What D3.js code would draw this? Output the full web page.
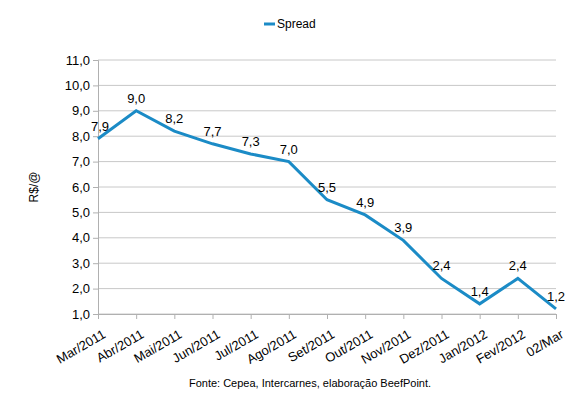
<!DOCTYPE html>
<html>
<head>
<meta charset="utf-8">
<script src="https://cdn.jsdelivr.net/npm/d3@7"></script>
<style>
  body { margin: 0; background: #fff; }
  text { font-family: "Liberation Sans", Arial, sans-serif; fill: #000; }
</style>
</head>
<body>
<div id="chart"></div>
<script>
// data
var months = ["Mar/2011", "Abr/2011", "Mai/2011", "Jun/2011", "Jul/2011", "Ago/2011",
              "Set/2011", "Out/2011", "Nov/2011", "Dez/2011", "Jan/2012", "Fev/2012", "02/Mar"];
var spread = [7.9, 9.0, 8.2, 7.7, 7.3, 7.0, 5.5, 4.9, 3.9, 2.4, 1.4, 2.4, 1.2];
var yTicks = [1, 2, 3, 4, 5, 6, 7, 8, 9, 10, 11];

var width = 570, height = 396;
var margin = {top: 60, right: 14, bottom: 82, left: 98};
var lineColor = "#1b8bc6";
var fmt = function(v) { return d3.format(".1f")(v).replace(".", ","); };

var svg = d3.select("#chart").append("svg")
    .attr("width", width)
    .attr("height", height);

var x = d3.scalePoint()
    .domain(months)
    .range([margin.left, width - margin.right]);

var y = d3.scaleLinear()
    .domain([1, 11])
    .range([height - margin.bottom, margin.top]);

// gridlines
svg.append("g")
  .selectAll("line")
  .data(yTicks)
  .enter().append("line")
    .attr("x1", margin.left)
    .attr("x2", width - margin.right)
    .attr("y1", function(d) { return y(d); })
    .attr("y2", function(d) { return y(d); })
    .attr("stroke", "#c8c8c8")
    .attr("stroke-width", 1);

// y axis
var yAxis = svg.append("g")
    .attr("transform", "translate(" + margin.left + ",0)")
    .call(d3.axisLeft(y).tickValues(yTicks).tickFormat(fmt).tickSize(5).tickPadding(3));
yAxis.select(".domain").attr("stroke", "#b0b0b0");
yAxis.selectAll(".tick line").attr("stroke", "#b0b0b0");
yAxis.selectAll("text").style("font-size", "13px").attr("fill", "#000");

// x axis
var xAxis = svg.append("g")
    .attr("transform", "translate(0," + (height - margin.bottom) + ")")
    .call(d3.axisBottom(x).tickSize(5).tickSizeOuter(0));
xAxis.select(".domain").attr("stroke", "#b0b0b0");
xAxis.selectAll(".tick line").attr("stroke", "#b0b0b0");
xAxis.selectAll("text")
    .style("font-size", "13px")
    .attr("fill", "#000")
    .attr("text-anchor", "end")
    .attr("dy", "0")
    .attr("transform", "translate(4,16) rotate(-30)");

// line
var line = d3.line()
    .x(function(d, i) { return x(months[i]); })
    .y(function(d) { return y(d); });

svg.append("path")
    .datum(spread)
    .attr("fill", "none")
    .attr("stroke", lineColor)
    .attr("stroke-width", 3)
    .attr("stroke-linejoin", "miter")
    .attr("d", line);

// value labels
svg.append("g")
  .selectAll("text")
  .data(spread)
  .enter().append("text")
    .attr("x", function(d, i) { return x(months[i]) + (i == 0 ? 2 : 0); })
    .attr("y", function(d) { return y(d) - 8; })
    .attr("text-anchor", "middle")
    .style("font-size", "13px")
    .text(function(d) { return fmt(d); });

// y label
svg.append("text")
    .attr("transform", "translate(38," + (margin.top + (height - margin.bottom - margin.top) / 2) + ") rotate(-90)")
    .attr("text-anchor", "middle")
    .style("font-size", "12px")
    .text("R$/@");

// legend
svg.append("line")
    .attr("x1", 264).attr("x2", 275)
    .attr("y1", 24).attr("y2", 24)
    .attr("stroke", lineColor)
    .attr("stroke-width", 3);
svg.append("text")
    .attr("x", 277)
    .attr("y", 28)
    .style("font-size", "12px")
    .text("Spread");

// source
svg.append("text")
    .attr("x", 310)
    .attr("y", 387)
    .attr("text-anchor", "middle")
    .style("font-size", "11px")
    .text("Fonte: Cepea, Intercarnes, elaboração BeefPoint.");
</script>
</body>
</html>
